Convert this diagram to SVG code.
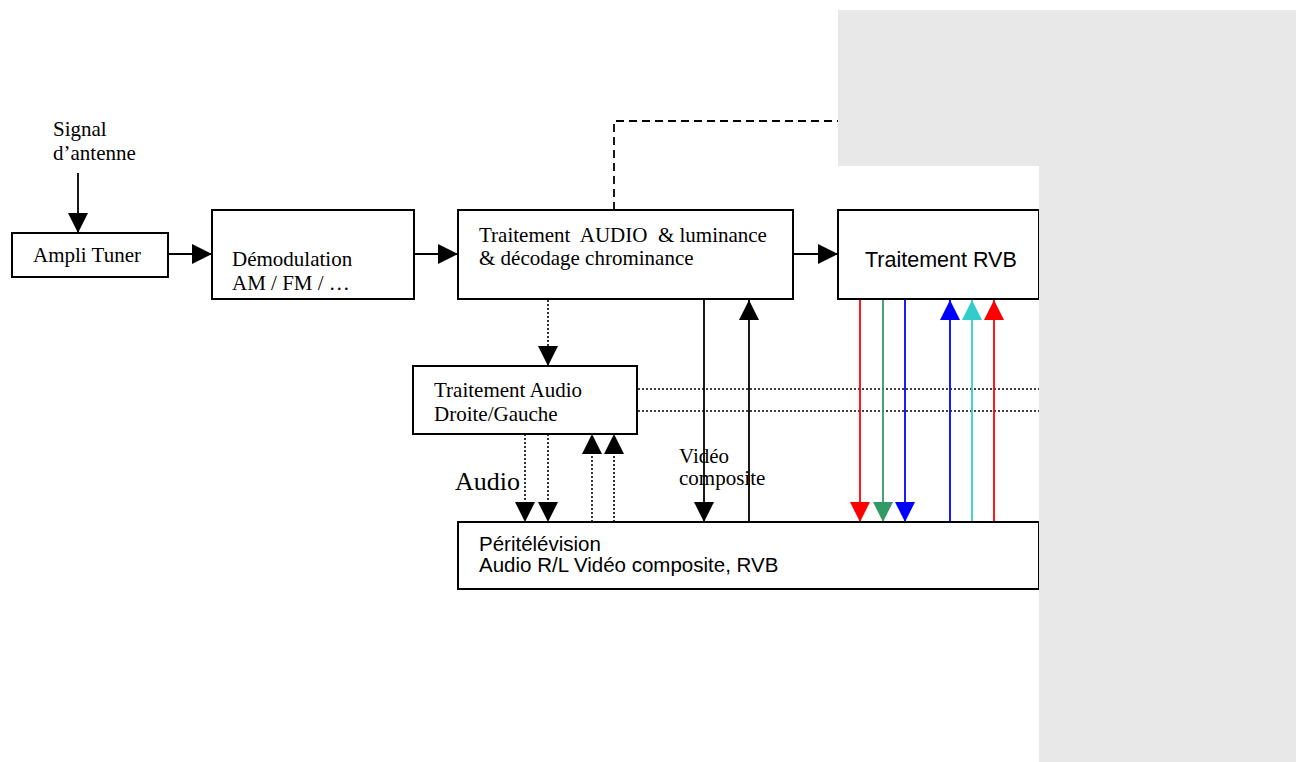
<svg xmlns="http://www.w3.org/2000/svg" width="1296" height="762" viewBox="0 0 1296 762">
<style>
.box{fill:#fff;stroke:#000;stroke-width:2}
.serif{font-family:"Liberation Serif","Times New Roman",serif;font-size:21px;fill:#000}
.big{font-size:26px}
.sans{font-family:"Liberation Sans",Arial,sans-serif;fill:#000}
.s20{font-size:20.5px}
.s21{font-size:21.5px}
.ln{stroke:#000;stroke-width:1.8;fill:none}
.dot{stroke:#000;stroke-width:1.6;stroke-dasharray:2 2;fill:none}
.dash{stroke:#000;stroke-width:1.8;stroke-dasharray:8 5;fill:none}
.c{stroke-width:1.8;fill:none}
</style>
<defs>
<marker id="ak" viewBox="0 0 20 20" refX="20" refY="10" markerWidth="20" markerHeight="21" markerUnits="userSpaceOnUse" orient="auto"><path d="M0,0 L20,10 L0,20 Z" fill="#000"/></marker>
<marker id="ar" viewBox="0 0 20 20" refX="20" refY="10" markerWidth="20" markerHeight="21" markerUnits="userSpaceOnUse" orient="auto"><path d="M0,0 L20,10 L0,20 Z" fill="#ff0000"/></marker>
<marker id="ag" viewBox="0 0 20 20" refX="20" refY="10" markerWidth="20" markerHeight="21" markerUnits="userSpaceOnUse" orient="auto"><path d="M0,0 L20,10 L0,20 Z" fill="#339966"/></marker>
<marker id="ab" viewBox="0 0 20 20" refX="20" refY="10" markerWidth="20" markerHeight="21" markerUnits="userSpaceOnUse" orient="auto"><path d="M0,0 L20,10 L0,20 Z" fill="#0000ff"/></marker>
<marker id="ac" viewBox="0 0 20 20" refX="20" refY="10" markerWidth="20" markerHeight="21" markerUnits="userSpaceOnUse" orient="auto"><path d="M0,0 L20,10 L0,20 Z" fill="#33cccc"/></marker>
</defs>
<rect width="1296" height="762" fill="#fff"/>

<g id="connectors">
<line class="ln" x1="78" y1="173" x2="78" y2="233" marker-end="url(#ak)"/>
<line class="ln" x1="168" y1="254" x2="212" y2="254" marker-end="url(#ak)"/>
<line class="ln" x1="414" y1="254" x2="458" y2="254" marker-end="url(#ak)"/>
<line class="ln" x1="793" y1="254" x2="838" y2="254" marker-end="url(#ak)"/>
<path class="dash" d="M614,210 V121 H838"/>
<line class="dot" x1="548" y1="300" x2="548" y2="366" marker-end="url(#ak)"/>
<line class="ln" x1="704" y1="300" x2="704" y2="522" marker-end="url(#ak)"/>
<line class="ln" x1="749" y1="522" x2="749" y2="300" marker-end="url(#ak)"/>
<line class="dot" x1="638" y1="389" x2="1039" y2="389"/>
<line class="dot" x1="638" y1="411" x2="1039" y2="411"/>
<line class="dot" x1="525" y1="434" x2="525" y2="522" marker-end="url(#ak)"/>
<line class="dot" x1="548" y1="434" x2="548" y2="522" marker-end="url(#ak)"/>
<line class="dot" x1="592" y1="522" x2="592" y2="434" marker-end="url(#ak)"/>
<line class="dot" x1="614" y1="522" x2="614" y2="434" marker-end="url(#ak)"/>
<line class="c" stroke="#ff0000" x1="860" y1="300" x2="860" y2="522" marker-end="url(#ar)"/>
<line class="c" stroke="#339966" x1="883" y1="300" x2="883" y2="522" marker-end="url(#ag)"/>
<line class="c" stroke="#0000ff" x1="905" y1="300" x2="905" y2="522" marker-end="url(#ab)"/>
<line class="c" stroke="#0000ff" x1="950" y1="522" x2="950" y2="300" marker-end="url(#ab)"/>
<line class="c" stroke="#33cccc" x1="972" y1="522" x2="972" y2="300" marker-end="url(#ac)"/>
<line class="c" stroke="#ff0000" x1="994" y1="522" x2="994" y2="300" marker-end="url(#ar)"/>
</g>

<g id="signal">
<text class="serif" x="53" y="136">Signal</text>
<text class="serif" x="53" y="160">d’antenne</text>
</g>

<g id="ampli">
<rect class="box" x="12" y="233" width="156" height="44"/>
<text class="serif" x="33" y="262">Ampli Tuner</text>
</g>

<g id="demod">
<rect class="box" x="212" y="210" width="202" height="89"/>
<text class="serif" x="232" y="266">Démodulation</text>
<text class="serif" x="232" y="290">AM / FM / …</text>
</g>

<g id="traitement">
<rect class="box" x="458" y="210" width="335" height="89"/>
<text class="serif" x="479" y="242" xml:space="preserve">Traitement  AUDIO  &amp; luminance</text>
<text class="serif" x="479" y="265">&amp; décodage chrominance</text>
</g>

<g id="rvb">
<rect class="box" x="838" y="210" width="201" height="89"/>
<text class="sans s21" x="865" y="267">Traitement RVB</text>
</g>

<g id="audiodg">
<rect class="box" x="413" y="366" width="224" height="68"/>
<text class="serif" x="434" y="397">Traitement Audio</text>
<text class="serif" x="434" y="421">Droite/Gauche</text>
</g>

<g id="labels">
<text class="serif big" x="455" y="490">Audio</text>
<text class="serif" x="679" y="463">Vidéo</text>
<text class="serif" x="679" y="485">composite</text>
</g>

<g id="peritel">
<rect class="box" x="458" y="522" width="581" height="67"/>
<text class="sans s20" x="479" y="551">Péritélévision</text>
<text class="sans s20" x="479" y="572">Audio R/L Vidéo composite, RVB</text>
</g>

<path d="M838,10 H1296 V762 H1039 V166 H838 Z" fill="#e8e8e8"/>
</svg>
